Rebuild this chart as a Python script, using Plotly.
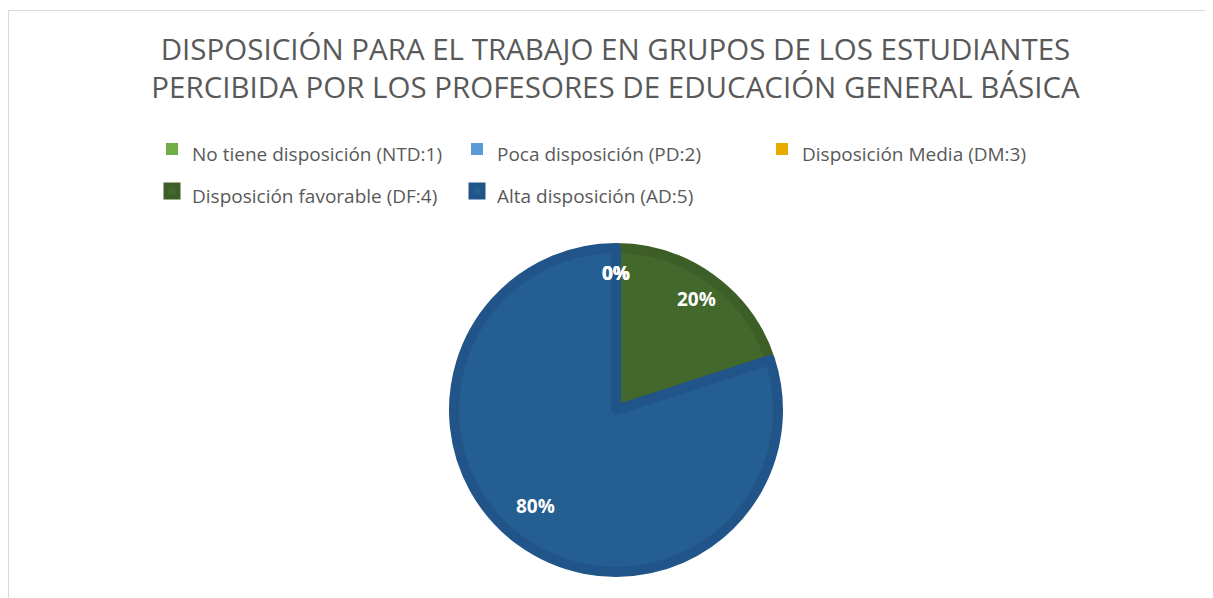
import math
import plotly.graph_objects as go

labels = ["No tiene disposición (NTD:1)", "Poca disposición (PD:2)", "Disposición Media (DM:3)",
          "Disposición favorable (DF:4)", "Alta disposición (AD:5)"]
values = [0, 0, 0, 20, 80]
fill_colors = ["#70AD47", "#5B9BD5", "#E8AC00", "#43682B", "#255E91"]
edge_colors = ["#70AD47", "#5B9BD5", "#E8AC00", "#3D5E27", "#21558A"]
title_lines = ["DISPOSICIÓN PARA EL TRABAJO EN GRUPOS DE LOS ESTUDIANTES",
               "PERCIBIDA POR LOS PROFESORES DE EDUCACIÓN GENERAL BÁSICA"]

# the page body has an 8px margin, so the figure is sized to fit the window
W, H = 1205, 590
cx_px, cy_px, r_px = 608, 402, 162  # pie geometry (figure pixels)
edge_w = 10

dom_x = [(cx_px - r_px) / W, (cx_px + r_px) / W]
dom_y = [(H - cy_px - r_px) / H, (H - cy_px + r_px) / H]

legend_labels = [f"<span style='font-size:19px'>{t}</span>" for t in labels]

fig = go.Figure()
fig.add_trace(go.Pie(
    labels=legend_labels, values=values, sort=False, direction="clockwise", rotation=0,
    marker=dict(colors=fill_colors,
                line=dict(color=edge_colors, width=[0 if v == 0 else edge_w for v in values])),
    textinfo="none", hoverinfo="label+percent", domain=dict(x=dom_x, y=dom_y),
    showlegend=True,
))

# percentage labels placed along each slice bisector (derived from the data)
total = sum(values)
outer_r = r_px + edge_w / 2
cum = 0
annotations = []
for v in values:
    mid = (cum + v / 2) / total * 2 * math.pi
    cum += v
    rr = 0.82 * outer_r
    x = (cx_px + rr * math.sin(mid)) / W
    y = (H - cy_px + rr * math.cos(mid)) / H
    annotations.append(dict(x=x, y=y, xref="paper", yref="paper", showarrow=False,
                            text=f"{v / total:.0%}",
                            font=dict(family="Open Sans", size=19, color="white", weight="bold")))

fig.update_layout(
    width=W, height=H,
    margin=dict(l=0, r=0, t=0, b=0),
    paper_bgcolor="white", plot_bgcolor="white",
    title=dict(text="<br>".join(title_lines), x=607.5 / W, xanchor="center",
               y=1 - 52 / H, yanchor="top", yref="container",
               font=dict(family="Open Sans", size=29.5, color="#595959")),
    legend=dict(orientation="h", x=(158 - 14) / W, xanchor="left",
                y=1 - 115 / H, yanchor="top", entrywidth=260, entrywidthmode="pixels",
                font=dict(family="Open Sans", size=30, color="#595959")),
    annotations=annotations,
    shapes=[dict(type="rect", xref="paper", yref="paper", x0=0.5 / W, x1=1.01, y0=-0.01, y1=1 - 2.5 / H,
                 line=dict(color="#D9D9D9", width=1), fillcolor="rgba(0,0,0,0)", layer="below")],
)

fig.write_html("out.html")
